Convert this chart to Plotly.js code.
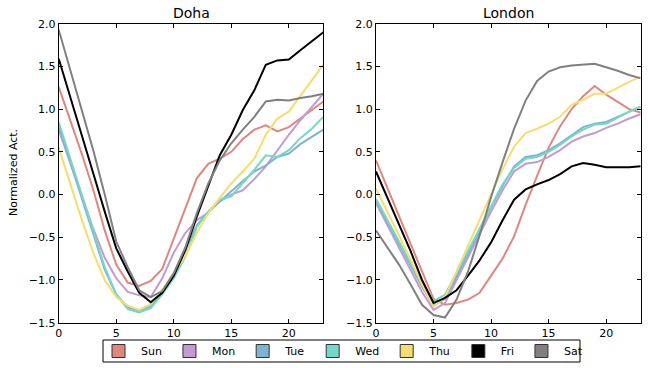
<!DOCTYPE html>
<html>
<head>
<meta charset="utf-8">
<script src="https://cdn.plot.ly/plotly-3.0.1.min.js"></script>
<style>html,body{margin:0;padding:0;background:#fff;}#chart{width:648px;height:368px;}</style>
</head>
<body>
<div id="chart"></div>
<script>
const hours = [0,1,2,3,4,5,6,7,8,9,10,11,12,13,14,15,16,17,18,19,20,21,22,23];
const days = ["Sun","Mon","Tue","Wed","Thu","Fri","Sat"];
const colors = ["#e0877d","#c39bd3","#7fb3d5","#76d7c4","#f7dc6f","#000000","#808080"];
const cities = ["Doha","London"];

const dohaSun = [1.26,0.88,0.48,0.06,-0.42,-0.82,-1.03,-1.07,-1.01,-0.87,-0.52,-0.18,0.19,0.36,0.42,0.5,0.65,0.76,0.81,0.74,0.79,0.89,0.99,1.09];
const dohaMon = [0.76,0.38,-0.02,-0.4,-0.74,-0.98,-1.14,-1.18,-1.2,-0.98,-0.68,-0.45,-0.3,-0.21,-0.08,0.0,0.05,0.18,0.33,0.52,0.7,0.87,1.02,1.18];
const dohaTue = [0.8,0.38,-0.04,-0.46,-0.88,-1.17,-1.32,-1.36,-1.31,-1.15,-0.95,-0.65,-0.36,-0.2,-0.08,0.05,0.16,0.27,0.34,0.44,0.48,0.59,0.68,0.76];
const dohaWed = [0.85,0.43,0.0,-0.42,-0.85,-1.17,-1.34,-1.38,-1.33,-1.17,-0.98,-0.73,-0.38,-0.2,-0.06,-0.02,0.13,0.29,0.46,0.44,0.52,0.66,0.77,0.91];
const dohaThu = [0.55,0.13,-0.29,-0.68,-1.0,-1.2,-1.3,-1.35,-1.28,-1.12,-0.92,-0.72,-0.45,-0.22,-0.04,0.13,0.27,0.42,0.7,0.89,0.97,1.15,1.34,1.52];
const dohaFri = [1.59,1.15,0.7,0.25,-0.2,-0.63,-0.9,-1.15,-1.26,-1.15,-0.95,-0.65,-0.26,0.09,0.46,0.7,0.99,1.22,1.52,1.57,1.58,1.69,1.79,1.9];
const dohaSat = [1.93,1.47,1.0,0.52,0.0,-0.55,-0.85,-1.12,-1.2,-1.13,-0.92,-0.62,-0.22,0.13,0.4,0.6,0.76,0.91,1.09,1.11,1.1,1.13,1.15,1.18];

const londonSun = [0.4,0.07,-0.25,-0.58,-0.9,-1.22,-1.29,-1.27,-1.23,-1.15,-0.95,-0.75,-0.49,-0.12,0.22,0.55,0.8,1.0,1.15,1.27,1.17,1.08,1.0,0.96];
const londonMon = [-0.1,-0.36,-0.62,-0.88,-1.14,-1.35,-1.27,-1.0,-0.73,-0.47,-0.2,0.05,0.27,0.36,0.38,0.44,0.52,0.62,0.68,0.72,0.78,0.83,0.89,0.94];
const londonTue = [-0.07,-0.32,-0.57,-0.82,-1.08,-1.3,-1.22,-0.96,-0.7,-0.43,-0.15,0.1,0.33,0.44,0.46,0.52,0.6,0.7,0.79,0.83,0.85,0.91,0.97,1.03];
const londonWed = [-0.05,-0.3,-0.55,-0.8,-1.05,-1.25,-1.17,-0.92,-0.66,-0.4,-0.13,0.12,0.31,0.42,0.44,0.5,0.58,0.68,0.76,0.82,0.83,0.9,0.97,1.03];
const londonThu = [0.07,-0.2,-0.48,-0.76,-1.05,-1.31,-1.2,-0.9,-0.6,-0.3,0.02,0.3,0.56,0.72,0.77,0.83,0.91,1.05,1.11,1.18,1.18,1.25,1.32,1.38];
const londonFri = [0.27,-0.04,-0.35,-0.66,-1.0,-1.27,-1.21,-1.12,-0.95,-0.77,-0.56,-0.3,-0.06,0.06,0.12,0.17,0.24,0.33,0.37,0.35,0.32,0.32,0.32,0.33];
const londonSat = [-0.42,-0.62,-0.82,-1.05,-1.29,-1.41,-1.44,-1.23,-0.9,-0.48,-0.03,0.38,0.77,1.1,1.33,1.44,1.49,1.51,1.52,1.53,1.49,1.45,1.4,1.36];

const yTicks = [-1.5,-1.0,-0.5,0.0,0.5,1.0,1.5,2.0];
const xTicks = [0,5,10,15,20];

const doha = [dohaSun,dohaMon,dohaTue,dohaWed,dohaThu,dohaFri,dohaSat];
const london = [londonSun,londonMon,londonTue,londonWed,londonThu,londonFri,londonSat];

const traces = [];
[doha, london].forEach((set, ci) => {
  set.forEach((vals, di) => {
    traces.push({
      x: hours, y: vals, type: "scatter", mode: "lines",
      xaxis: ci === 0 ? "x" : "x2", yaxis: ci === 0 ? "y" : "y2",
      line: {color: colors[di], width: 2},
      showlegend: false, hoverinfo: "skip"
    });
  });
});
days.forEach((d, di) => {
  traces.push({
    x: [null], y: [null], type: "scatter", mode: "markers", name: d,
    xaxis: "x", yaxis: "y",
    marker: {symbol: "square", size: 13, color: colors[di], line: {color: "#333", width: 1}},
    showlegend: true
  });
});

const font = {family: "DejaVu Sans, sans-serif", size: 11, color: "#000"};
function xax(domain, anchor) {
  return {domain: domain, anchor: anchor, range: [0, 23], tickvals: xTicks, ticks: "inside", ticklen: 4,
    tickcolor: "#000", showline: true, linecolor: "#000", linewidth: 1, mirror: "ticks",
    showgrid: false, zeroline: false, tickfont: font};
}
function yax(anchor) {
  return {domain: [0.1231, 0.9356], anchor: anchor, range: [-1.5, 2.0], tickvals: yTicks, tickformat: ".1f",
    ticks: "inside", ticklen: 4, tickcolor: "#000", showline: true, linecolor: "#000", linewidth: 1,
    mirror: "ticks", showgrid: false, zeroline: false, tickfont: font};
}

const layout = {
  width: 648, height: 368,
  margin: {l: 0, r: 0, t: 0, b: 0},
  paper_bgcolor: "#fff", plot_bgcolor: "#fff",
  font: font,
  xaxis: xax([0.0906, 0.4990], "y"),
  yaxis: yax("x"),
  xaxis2: xax([0.5802, 0.9887], "y2"),
  yaxis2: yax("x2"),
  showlegend: true,
  legend: {
    orientation: "h", x: 96/648, y: 1 - 351/368, xanchor: "left", yanchor: "middle",
    borderwidth: 0, bgcolor: "rgba(0,0,0,0)",
    font: {family: "DejaVu Sans, sans-serif", size: 11, color: "#000"},
    itemwidth: 35, traceorder: "normal", itemclick: false
  },
  shapes: [
    {type: "rect", xref: "paper", yref: "paper", x0: 103/648, x1: 580/648, y0: 1 - 362/368, y1: 1 - 340/368,
      line: {color: "#000", width: 1}, fillcolor: "rgba(0,0,0,0)", layer: "below"}
  ],
  annotations: [
    {text: cities[0], xref: "paper", yref: "paper", x: 0.2948, y: 1 - 13/368, xanchor: "center", yanchor: "middle",
      showarrow: false, font: {family: "DejaVu Sans, sans-serif", size: 14, color: "#000"}},
    {text: cities[1], xref: "paper", yref: "paper", x: 0.7844, y: 1 - 13/368, xanchor: "center", yanchor: "middle",
      showarrow: false, font: {family: "DejaVu Sans, sans-serif", size: 14, color: "#000"}},
    {text: "Normalized Act.", xref: "paper", yref: "paper", x: 14/648, y: 1 - 173/368, xanchor: "center", yanchor: "middle",
      textangle: -90, showarrow: false, font: {family: "DejaVu Sans, sans-serif", size: 11, color: "#000"}}
  ]
};

Plotly.newPlot("chart", traces, layout, {staticPlot: true, displayModeBar: false});
</script>
</body>
</html>
